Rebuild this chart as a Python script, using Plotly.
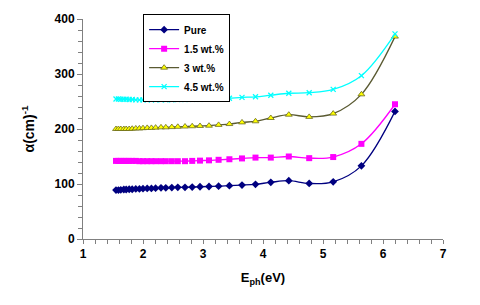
import plotly.graph_objects as go

# Photon energy (eV)
e_ph = [1.55, 1.59, 1.63, 1.68, 1.72, 1.77, 1.82, 1.88, 1.94, 2.00, 2.07,
        2.14, 2.21, 2.30, 2.38, 2.48, 2.58, 2.70, 2.82, 2.95, 3.10, 3.26,
        3.44, 3.65, 3.875, 4.13, 4.43, 4.77, 5.17, 5.64, 6.20]

pure = [89, 89, 89.5, 90, 90, 90.5, 90.5, 91, 91, 91.5, 92, 92, 92.5, 93, 93,
        93.5, 94, 94, 94.5, 95, 95.5, 96, 97, 98, 99.5, 103, 106, 101, 104,
        133, 232]
wt15 = [142, 142, 142, 142, 142, 142, 142, 142, 141.5, 141.5, 141.5, 141.5,
        141.5, 141.5, 141.5, 141.5, 141.5, 141.5, 142, 142.5, 143, 144, 145,
        146.5, 148, 148, 150, 147, 149, 173, 245]
wt3 = [200, 200, 200, 200, 200, 200, 200.5, 201, 201, 201.5, 202, 202, 202.5,
       203, 203, 203.5, 204, 204.5, 205, 205.5, 206, 207.5, 209, 212, 214,
       220, 226, 222, 228, 263, 368]
wt45 = [254.5, 254.5, 254, 254, 254, 253.5, 253.5, 253, 253, 253, 253, 253,
        253, 253, 253, 253, 253.5, 253.5, 254, 254, 254.5, 255, 256, 257.5,
        258.5, 261.5, 265, 266, 272, 297, 373]

names = ["Pure", "1.5 wt.%", "3 wt.%", "4.5 wt.%"]

FONT = "Arial, Liberation Sans, sans-serif"

fig = go.Figure()
fig.add_trace(go.Scatter(
    x=e_ph, y=pure, name=names[0], mode="lines+markers",
    line=dict(color="#000080", width=1.3, shape="spline"),
    marker=dict(symbol="diamond", size=6, color="#000080")))
fig.add_trace(go.Scatter(
    x=e_ph, y=wt15, name=names[1], mode="lines+markers",
    line=dict(color="#FF00FF", width=1.3, shape="spline"),
    marker=dict(symbol="square", size=6, color="#FF00FF")))
fig.add_trace(go.Scatter(
    x=e_ph, y=wt3, name=names[2], mode="lines+markers",
    line=dict(color="#5a5a32", width=1.3, shape="spline"),
    marker=dict(symbol="triangle-up", size=6, color="#FFFF00",
                line=dict(color="#6b6b20", width=0.8))))
fig.add_trace(go.Scatter(
    x=e_ph, y=wt45, name=names[3], mode="lines+markers",
    line=dict(color="#00FFFF", width=1.3, shape="spline"),
    marker=dict(symbol="x-thin", size=5, color="#00FFFF",
                line=dict(color="#00FFFF", width=1.3))))

fig.update_layout(
    width=472, height=297,
    margin=dict(l=75, r=37, t=6, b=66),
    paper_bgcolor="white", plot_bgcolor="white",
    font=dict(family=FONT, color="black"),
    showlegend=True,
    legend=dict(x=0.167, y=1.022, xanchor="left", yanchor="top",
                bordercolor="black", borderwidth=1, bgcolor="white",
                font=dict(family=FONT, size=10, color="black", weight="bold"),
                itemwidth=30, tracegroupgap=0),
    xaxis=dict(range=[1, 7], tickvals=[1, 2, 3, 4, 5, 6, 7],
               automargin=False, ticklabeloverflow="allow",
               showgrid=False, zeroline=False,
               showline=True, linecolor="#808080", linewidth=1,
               ticks="outside", ticklen=4, tickcolor="#808080",
               minor=dict(dtick=0.2, ticks="outside", ticklen=4,
                          tickcolor="#808080"),
               tickfont=dict(family=FONT, size=12, weight="bold"),
               title=dict(text="E<sub>ph</sub>(eV)", standoff=12,
                          font=dict(family=FONT, size=13, weight="bold"))),
    yaxis=dict(range=[0, 400], tickvals=[0, 100, 200, 300, 400],
               automargin=False, ticklabeloverflow="allow",
               showgrid=False, zeroline=False,
               showline=True, linecolor="#808080", linewidth=1,
               ticks="outside", ticklen=5, tickcolor="#808080",
               minor=dict(dtick=20, ticks="outside", ticklen=4,
                          tickcolor="#808080"),
               tickfont=dict(family=FONT, size=12, weight="bold"),
               title=dict(text="α(cm)<sup>-1</sup>", standoff=16,
                          font=dict(family=FONT, size=14, weight="bold"))),
)

fig.write_html("out.html")
